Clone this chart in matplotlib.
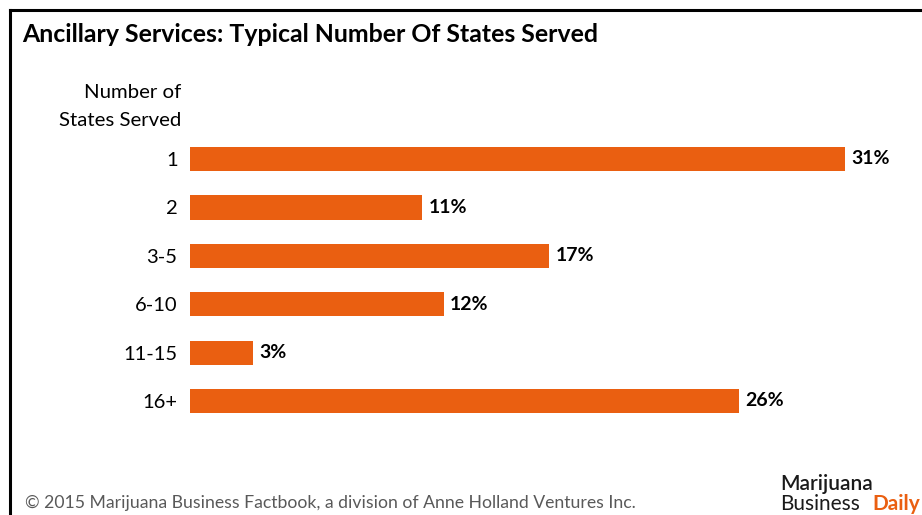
import matplotlib.pyplot as plt
from matplotlib.lines import Line2D

# data
categories = ['1', '2', '3-5', '6-10', '11-15', '16+']
shares = [31, 11, 17, 12, 3, 26]

orange = '#EA5F11'
plt.rcParams['font.family'] = ['Lato', 'DejaVu Sans']

fig = plt.figure(figsize=(9.22, 5.15), dpi=100)
W, H = 922, 515

# frame line (top + left), cut off at right / bottom like the slide
fig.add_artist(Line2D([10 / W, 10 / W], [0, 1 - 10 / H], color='black', lw=2.2,
                      transform=fig.transFigure))
fig.add_artist(Line2D([10 / W, 1], [1 - 10 / H, 1 - 10 / H], color='black', lw=2.2,
                      transform=fig.transFigure))

fig.text(22 / W, 1 - 35 / H, 'Ancillary Services: Typical Number Of States Served',
         fontsize=17.9, fontweight='bold', va='center', ha='left')

# bar area
left, right = 190, 845
top, bottom = 134.8, 425.2
ax = fig.add_axes([left / W, 1 - bottom / H, (right - left) / W, (bottom - top) / H])
y = list(range(len(categories)))
ax.barh(y, shares, height=0.5, color=orange)
ax.set_xlim(0, 31)
ax.set_ylim(len(categories) - 0.5, -0.5)
for yi, v in zip(y, shares):
    ax.text(v + 0.3, yi, f'{v}%', va='center', ha='left', fontsize=14,
            fontweight='bold', clip_on=False)
ax.set_yticks(y)
ax.set_yticklabels(categories, fontsize=14.5)
ax.tick_params(axis='y', length=0, pad=9)
ax.set_xticks([])
for s in ax.spines.values():
    s.set_visible(False)

fig.text(181 / W, 1 - 93 / H, 'Number of', fontsize=14.7, ha='right', va='center')
fig.text(181 / W, 1 - 121 / H, 'States Served', fontsize=14.7, ha='right', va='center')

# footer
fig.text(25 / W, 1 - 503 / H,
         '\u00a9 2015 Marijuana Business Factbook, a division of Anne Holland Ventures Inc.',
         fontsize=12.7, color='#595959', ha='left', va='center')
fig.text(780 / W, 1 - 484 / H, 'Marijuana', fontsize=15, fontweight='semibold',
         ha='left', va='center', color='#1a1a1a')
fig.text(780 / W, 1 - 504 / H, 'Business', fontsize=15, ha='left', va='center',
         color='#1a1a1a')
fig.text(872 / W, 1 - 504 / H, 'Daily', fontsize=15, fontweight='bold',
         ha='left', va='center', color=orange)

fig.savefig('out.png', dpi=100)
